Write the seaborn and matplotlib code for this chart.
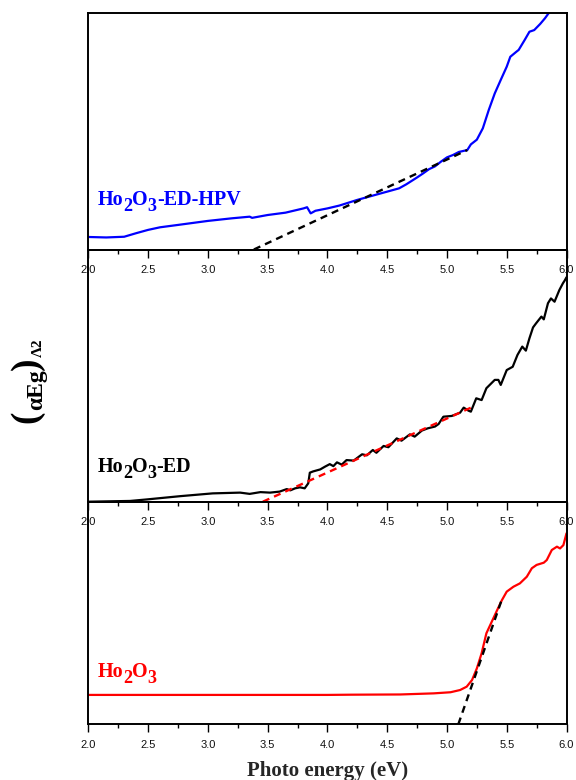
import matplotlib
matplotlib.use("Agg")
import matplotlib.pyplot as plt
import seaborn as sns
from matplotlib.ticker import MultipleLocator, FormatStrFormatter
from matplotlib.transforms import offset_copy

# ---- data: (alpha*Eg)^2 in arbitrary units (each panel scaled 0..1) ----
hpv_energy = [2.00, 2.15, 2.30, 2.40, 2.50, 2.60, 2.75, 3.00, 3.20, 3.35,
              3.37, 3.50, 3.65, 3.80, 3.83, 3.86, 3.90, 4.00, 4.10, 4.25,
              4.40, 4.50, 4.60, 4.66, 4.75, 4.80, 4.85, 4.90, 4.95, 5.00,
              5.05, 5.10, 5.17, 5.20, 5.25, 5.30, 5.35, 5.40, 5.45, 5.50,
              5.53, 5.58, 5.60, 5.65, 5.69, 5.73, 5.78, 5.82, 5.85, 5.88]
hpv_signal = [0.053, 0.051, 0.054, 0.069, 0.083, 0.094, 0.104, 0.121, 0.132, 0.139,
              0.134, 0.146, 0.156, 0.174, 0.179, 0.153, 0.164, 0.174, 0.186, 0.210,
              0.231, 0.245, 0.259, 0.276, 0.305, 0.322, 0.340, 0.352, 0.372, 0.390,
              0.400, 0.413, 0.421, 0.445, 0.465, 0.513, 0.591, 0.661, 0.718, 0.774,
              0.816, 0.837, 0.845, 0.887, 0.922, 0.929, 0.955, 0.979, 1.000, 1.020]

ed_energy = [2.00, 2.35, 2.49, 2.77, 3.04, 3.27, 3.35, 3.44, 3.52, 3.60,
             3.66, 3.69, 3.73, 3.77, 3.81, 3.84, 3.853, 3.88, 3.94, 3.98,
             4.02, 4.05, 4.08, 4.12, 4.16, 4.22, 4.29, 4.33, 4.38, 4.41,
             4.47, 4.51, 4.58, 4.62, 4.69, 4.73, 4.79, 4.84, 4.90, 4.93,
             4.97, 5.04, 5.11, 5.14, 5.18, 5.20, 5.245, 5.29, 5.33, 5.40,
             5.43, 5.45, 5.50, 5.55, 5.59, 5.63, 5.66, 5.69, 5.72, 5.745,
             5.79, 5.81, 5.845, 5.87, 5.90, 5.94, 5.97, 5.985, 6.00]
ed_signal = [0.000, 0.003, 0.009, 0.022, 0.033, 0.036, 0.031, 0.038, 0.036, 0.040,
             0.050, 0.045, 0.053, 0.057, 0.053, 0.073, 0.115, 0.120, 0.128, 0.139,
             0.149, 0.141, 0.156, 0.147, 0.165, 0.163, 0.188, 0.184, 0.205, 0.194,
             0.221, 0.216, 0.251, 0.242, 0.267, 0.258, 0.282, 0.291, 0.298, 0.308,
             0.337, 0.340, 0.353, 0.373, 0.361, 0.357, 0.410, 0.403, 0.450, 0.483,
             0.483, 0.463, 0.522, 0.535, 0.582, 0.615, 0.599, 0.648, 0.691, 0.707,
             0.734, 0.723, 0.787, 0.806, 0.793, 0.839, 0.866, 0.877, 0.890]

ho_energy = [2.00, 3.00, 4.00, 4.20, 4.61, 4.89, 5.03, 5.11, 5.165, 5.21,
             5.25, 5.29, 5.33, 5.375, 5.42, 5.46, 5.50, 5.556, 5.61, 5.668,
             5.71, 5.75, 5.81, 5.835, 5.877, 5.92, 5.946, 5.974, 6.00]
ho_signal = [0.132, 0.132, 0.132, 0.133, 0.134, 0.139, 0.144, 0.154, 0.169, 0.199,
             0.251, 0.319, 0.409, 0.461, 0.513, 0.558, 0.596, 0.618, 0.633, 0.663,
             0.701, 0.716, 0.726, 0.738, 0.783, 0.798, 0.790, 0.805, 0.858]

# linear fits (Tauc extrapolation) as end points
hpv_fit_energy = [3.385, 5.17]
hpv_fit_signal = [0.0, 0.421]
ed_fit_energy = [3.46, 5.22]
ed_fit_signal = [0.0, 0.377]
ho_fit_energy = [5.095, 5.46]
ho_fit_signal = [0.0, 0.562]

# sample names: (text, is_subscript) runs
labels = [
    [("Ho", False), ("2", True), ("O", False), ("3", True), ("-ED-HPV", False)],
    [("Ho", False), ("2", True), ("O", False), ("3", True), ("-ED", False)],
    [("Ho", False), ("2", True), ("O", False), ("3", True)],
]
label_pos = [(2.077, 0.188), (2.075, 0.119), (2.077, 0.211)]

# ---- style ----
sns.set_theme(style="ticks")
plt.rcParams["font.family"] = ["Liberation Sans", "DejaVu Sans"]

W, H = 576, 780
fig = plt.figure(figsize=(W / 100, H / 100), dpi=100)
fig.patch.set_facecolor("white")
renderer = fig.canvas.get_renderer()

SERIF = "Liberation Serif"


def chem_text(ax, x, y, runs, color, size):
    """Write a formula with lowered, slightly smaller subscript digits."""
    dx = 0.0
    for s, sub in runs:
        fs = size * 0.9 if sub else size
        dy = -0.30 * size if sub else 0.0
        tr = offset_copy(ax.transData, fig=fig, x=dx, y=dy, units="points")
        t = ax.text(x, y, s, transform=tr, color=color, fontsize=fs,
                    fontfamily=SERIF, fontweight="bold",
                    ha="left", va="baseline")
        dx += t.get_window_extent(renderer).width * 72 / fig.dpi


x_left, x_right = 88.3, 566.5
bands = [(13.3, 249.5), (249.5, 501.7), (501.7, 724.3)]

series = [
    (hpv_energy, hpv_signal, "#0000FF", hpv_fit_energy, hpv_fit_signal, "black"),
    (ed_energy, ed_signal, "black", ed_fit_energy, ed_fit_signal, "#FF0000"),
    (ho_energy, ho_signal, "#FF0000", ho_fit_energy, ho_fit_signal, "black"),
]

for (top, bottom), (xe, ys, col, fx, fy, fcol), runs, (tx, ty) in zip(
        bands, series, labels, label_pos):
    ax = fig.add_axes([x_left / W, 1 - bottom / H,
                       (x_right - x_left) / W, (bottom - top) / H])
    ax.set_facecolor("none")
    sns.lineplot(x=xe, y=ys, ax=ax, color=col, linewidth=1.6,
                 estimator=None, sort=False, zorder=2)
    sns.lineplot(x=fx, y=fy, ax=ax, color=fcol, linewidth=1.7,
                 linestyle=(0, (3.0, 2.2)), estimator=None, sort=False, zorder=3)

    ax.set_xlim(2.0, 6.0)
    ax.set_ylim(0.0, 1.0)
    ax.set_xlabel("")
    ax.set_ylabel("")
    ax.set_yticks([])
    ax.xaxis.set_major_locator(MultipleLocator(0.5))
    ax.xaxis.set_minor_locator(MultipleLocator(0.25))
    ax.xaxis.set_major_formatter(FormatStrFormatter("%.1f"))
    ax.tick_params(axis="x", which="major", direction="out", length=5.5,
                   width=1.0, color="black", pad=5.5, labelsize=8,
                   labelcolor="#111111")
    ax.tick_params(axis="x", which="minor", direction="out", length=3,
                   width=1.0, color="black")
    for sp in ax.spines.values():
        sp.set_visible(True)
        sp.set_color("black")
        sp.set_linewidth(1.4)

    chem_text(ax, tx, ty, runs, col, 14.5)

# x-axis title
fig.text(327.4 / W, 1 - 771 / H, "Photo energy (eV)", ha="center", va="center",
         fontfamily=SERIF, fontweight="bold", fontsize=15)

# y-axis title, read bottom to top: large parentheses around alphaEg, then ^2
ylabel_runs = [("(", 27, 36.5), ("αEg", 17, 41.7), (")", 27, 36.5), ("Λ2", 11, 41.7)]
py = 423.0
for s, fs, base_px in ylabel_runs:
    t = fig.text(base_px / W, 1 - py / H, s, rotation=90, rotation_mode="anchor",
                 ha="left", va="baseline", fontsize=fs,
                 fontfamily=SERIF, fontweight="bold", color="black")
    py -= t.get_window_extent(renderer).height

fig.savefig("out.png", dpi=100)
